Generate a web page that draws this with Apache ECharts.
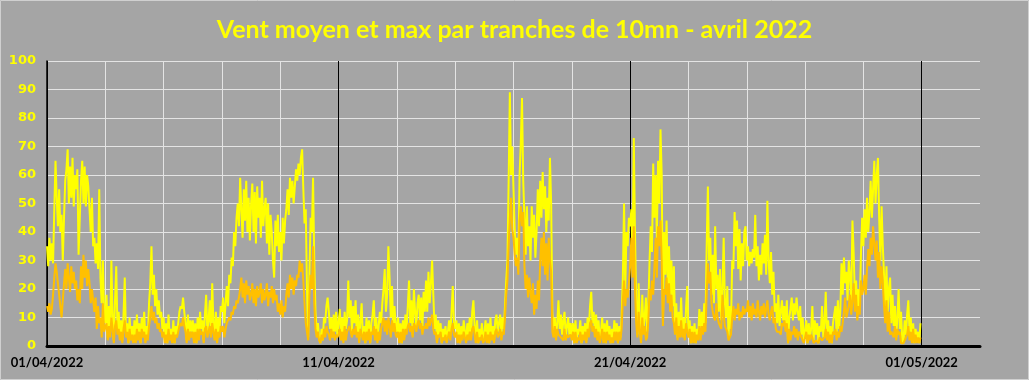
<!DOCTYPE html>
<html><head><meta charset="utf-8">
<script src="https://cdn.jsdelivr.net/npm/echarts/dist/echarts.min.js"></script>
<style>html,body{margin:0;padding:0;background:#a5a5a5}#c{width:1029px;height:380px}</style>
</head><body><div id="c"></div>
<script>
const chartTitle = 'Vent moyen et max par tranches de 10mn - avril 2022';
const xTickValues = [0, 10, 20, 30];
const xTickLabels = ['01/04/2022', '11/04/2022', '21/04/2022', '01/05/2022'];
const yTicks = [0, 10, 20, 30, 40, 50, 60, 70, 80, 90, 100];
const hoursPerStep = 1; // one value per hour, starting 01/04/2022 00:00

// Vent max (km/h), hourly readings, one row per day (01/04 .. 30/04)
const ventMax = [
35,28,38,30,36,29,48,65,52,42,55,40,46,30,45,58,62,69,50,63,52,66,49,60,
55,62,32,45,58,65,50,63,49,60,56,48,40,52,35,38,29,36,27,55,24,15,30,12,
8,18,3,14,5,30,10,2,16,28,6,12,3,9,2,11,24,4,8,1,10,3,7,2,
9,2,11,3,8,1,10,4,12,2,7,3,15,22,35,18,25,14,20,11,16,10,12,6,
10,2,8,1,11,3,6,2,9,1,7,4,8,12,14,13,17,12,8,2,11,3,9,5,
9,2,8,1,10,3,12,6,9,2,11,18,5,9,16,4,22,8,3,12,2,10,5,14,
12,17,8,15,21,14,25,22,31,28,40,35,45,50,42,59,48,38,55,44,58,40,52,37,
50,57,40,54,36,56,45,52,38,58,42,48,52,36,50,32,46,40,30,24,44,35,46,33,
40,30,45,36,44,48,55,46,59,52,58,50,56,62,58,64,60,66,69,55,43,48,20,3,
25,45,40,59,30,12,5,8,3,1,6,2,10,8,14,17,12,6,10,3,11,5,12,4,
8,13,4,10,2,12,6,9,23,10,16,5,14,8,16,4,11,2,9,15,3,7,1,10,
3,9,1,8,11,16,5,10,2,7,12,8,15,20,27,12,18,35,24,10,21,6,14,8,
5,10,2,8,1,9,3,11,6,14,23,8,16,4,20,12,7,15,18,9,17,6,19,12,
23,12,26,15,22,30,18,6,11,2,9,4,8,1,6,3,7,2,5,9,4,12,21,8,
6,9,2,8,1,7,3,9,5,2,8,4,10,3,12,16,7,2,9,1,6,3,8,2,
4,9,2,8,1,10,3,7,2,9,11,5,8,11,4,10,6,14,23,30,58,89,60,70,
55,41,32,38,29,60,71,87,58,45,32,49,35,42,30,49,38,46,31,40,55,42,58,45,
61,48,56,40,52,44,66,50,12,5,10,3,8,16,6,11,4,9,12,3,7,10,4,8,
3,8,1,9,2,6,4,9,1,7,3,8,2,10,6,14,19,8,12,5,11,4,9,2,
5,10,2,8,1,9,3,7,1,6,2,9,4,8,1,7,3,10,24,50,20,40,35,45,
42,48,30,73,40,15,4,22,8,2,18,6,10,17,5,14,30,42,33,64,45,60,38,65,
50,76,60,9,40,25,44,21,35,18,30,14,28,6,15,3,12,5,17,4,10,3,13,21,
5,9,1,7,2,8,1,6,3,13,4,12,6,15,8,35,56,30,38,18,32,15,42,20,
25,12,27,9,20,38,15,10,21,3,14,6,30,27,47,35,44,27,41,23,36,28,40,42,
30,35,28,33,29,34,31,46,28,35,23,32,25,36,29,39,25,51,30,22,33,18,26,12,
15,8,18,7,12,16,9,14,7,16,1,10,13,17,9,15,11,17,12,9,14,4,10,2,
5,9,1,8,3,6,14,2,9,4,8,1,7,5,14,3,8,19,4,9,2,7,1,8,
8,14,4,16,6,12,29,18,31,22,26,16,30,24,16,44,33,17,23,11,20,14,32,45,
35,48,38,52,40,47,58,45,55,65,50,60,66,45,30,49,35,25,14,28,12,20,24,8,
18,7,14,3,10,20,6,12,2,1,9,4,11,16,5,10,2,8,1,6,2,5,1,8
];

// Vent moyen (km/h), hourly readings, one row per day
const ventMoyen = [
14,12,15,11,13,18,24,29,26,22,18,14,10,16,22,27,20,29,24,19,28,22,26,20,
23,16,20,15,28,20,32,24,30,21,27,22,15,20,16,12,17,6,14,8,10,3,15,5,
5,8,2,7,3,10,6,1,7,9,4,6,2,5,1,6,9,3,5,1,6,2,4,1,
4,1,6,2,5,1,6,3,5,1,4,2,7,10,14,9,12,8,10,6,8,5,6,3,
5,1,4,1,6,2,4,1,5,1,4,3,5,7,8,7,10,7,5,1,6,2,5,3,
5,1,5,1,6,2,6,4,5,1,6,7,3,5,7,3,8,5,2,6,1,5,3,7,
5,7,3,6,8,8,10,9,12,11,14,13,16,15,17,20,24,17,22,15,23,18,21,16,
18,22,15,20,14,21,17,19,22,15,20,16,18,22,14,19,17,21,15,20,16,18,12,15,
11,16,10,14,12,18,22,17,25,20,24,18,23,21,25,24,30,26,29,23,15,8,5,2,
18,25,20,35,15,6,3,5,2,1,4,2,6,3,7,5,4,2,6,3,5,2,4,3,
4,6,2,5,1,7,2,5,6,7,5,3,6,4,7,3,5,1,6,4,2,5,1,5,
2,6,1,5,4,7,2,6,1,5,2,6,8,10,5,9,4,10,7,3,9,5,8,4,
3,5,1,5,1,6,2,6,4,7,8,5,7,3,8,7,5,8,9,6,8,4,7,6,
8,6,10,7,9,11,6,4,5,1,4,3,5,1,3,2,4,1,3,5,2,6,8,4,
3,5,1,4,1,4,2,5,3,1,4,2,5,2,6,7,4,1,5,1,3,2,4,1,
2,5,1,4,1,5,2,4,1,5,6,3,4,6,2,5,4,10,18,23,35,45,52,41,
38,32,28,31,25,44,49,42,47,28,20,25,17,24,19,15,22,11,18,13,23,16,30,38,
28,40,25,36,23,38,30,26,5,3,7,2,6,4,4,3,3,2,6,2,4,3,3,4,
2,5,1,5,1,3,2,5,1,4,2,5,1,6,3,8,9,5,7,3,6,2,5,1,
3,6,1,5,1,5,2,4,1,3,1,5,2,5,1,5,2,6,16,23,14,20,17,22,
28,38,24,42,20,8,3,12,5,1,10,4,7,2,3,9,20,16,23,18,28,38,24,42,
35,44,30,7,20,18,24,15,22,12,18,10,8,4,10,2,7,3,9,3,6,2,8,5,
3,6,1,5,1,5,1,4,2,7,2,7,4,8,5,18,29,22,26,15,12,10,9,15,
10,8,8,6,18,11,7,6,5,2,3,4,10,14,9,13,11,15,9,12,10,14,11,13,
12,16,10,14,9,15,11,13,10,16,12,9,14,11,15,10,13,16,11,9,12,14,8,10,
6,5,5,5,4,8,7,9,5,8,1,6,2,5,4,7,3,6,2,5,4,3,3,1,
3,5,1,4,2,4,3,1,1,2,2,1,3,3,2,2,3,6,2,5,1,4,1,5,
4,6,2,5,3,7,5,8,12,17,10,12,14,18,11,16,22,12,18,9,14,11,23,18,
20,25,18,27,34,28,38,32,42,36,30,37,24,33,20,28,22,14,8,16,5,12,4,5,
5,3,7,2,6,4,5,1,1,1,2,2,4,7,2,5,1,6,1,4,1,3,1,3
];

const toPairs = arr => arr.map((v, i) => [i * hoursPerStep / 24, v]);
const labelFor = v => { const k = xTickValues.indexOf(v); return k >= 0 ? xTickLabels[k] : ''; };

const chart = echarts.init(document.getElementById('c'), null, {renderer: 'canvas'});
chart.setOption({
  backgroundColor: '#a5a5a5',
  animation: false,
  title: {
    text: chartTitle, left: 'center', top: 12,
    textStyle: {color: '#ffff00', fontSize: 25, fontWeight: 'bold', fontFamily: 'Lato'}
  },
  graphic: [{type: 'rect', shape: {x: 0.5, y: 0.5, width: 1028, height: 379},
    style: {fill: null, stroke: '#d0d0d0', lineWidth: 1}, silent: true}],
  grid: {left: 47, right: 49, top: 61, bottom: 34},
  xAxis: {
    type: 'value', min: 0, max: 32, interval: 2,
    axisLine: {show: true, onZero: false, lineStyle: {color: '#000', width: 3}},
    axisTick: {show: false},
    axisLabel: {formatter: labelFor, color: '#000', fontWeight: 'bold', fontSize: 13,
      fontFamily: 'Lato', margin: 10},
    splitLine: {show: true, showMaxLine: false,
      lineStyle: {color: ['#000', '#e4e4e4', '#e4e4e4', '#e4e4e4', '#e4e4e4'], width: 1}}
  },
  yAxis: {
    type: 'value', min: yTicks[0], max: yTicks[yTicks.length - 1], interval: 10,
    axisLine: {show: true, lineStyle: {color: '#000', width: 1.5}},
    axisTick: {show: false},
    axisLabel: {color: '#ffff00', fontWeight: 'bold', fontSize: 13, fontFamily: 'DejaVu Sans', margin: 11},
    splitLine: {show: true, lineStyle: {color: '#e4e4e4', width: 1}}
  },
  series: [
    {name: 'Vent max', type: 'line', data: toPairs(ventMax), showSymbol: false, symbol: 'none',
      lineStyle: {color: '#ffff00', width: 2}, itemStyle: {color: '#ffff00'}, z: 2},
    {name: 'Vent moyen', type: 'line', data: toPairs(ventMoyen), showSymbol: false, symbol: 'none',
      lineStyle: {color: '#ffc000', width: 2}, itemStyle: {color: '#ffc000'}, z: 3}
  ]
});
</script></body></html>
